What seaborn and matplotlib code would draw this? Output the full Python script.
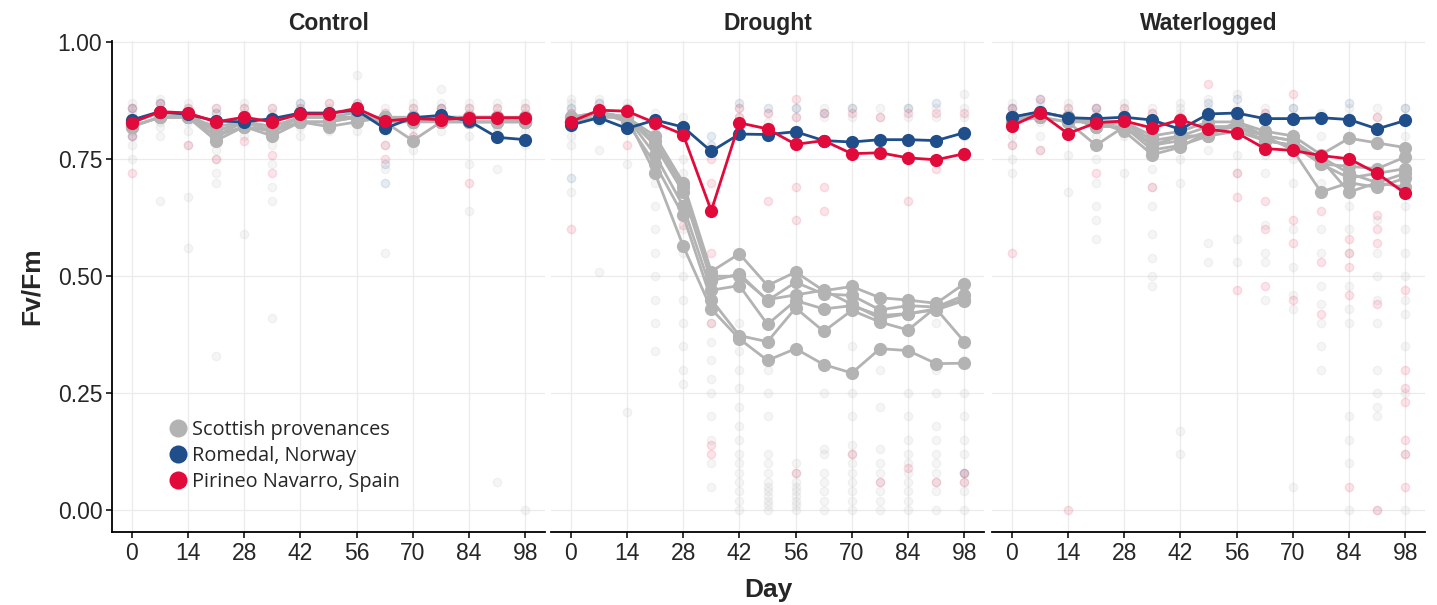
import numpy as np
import pandas as pd
import matplotlib.pyplot as plt
import seaborn as sns
from matplotlib.lines import Line2D

# ---------------- data ----------------
days = [0, 7, 14, 21, 28, 35, 42, 49, 56, 63, 70, 77, 84, 91, 98]
treatments = ['Control', 'Drought', 'Waterlogged']
groups = ['Scottish provenances', 'Romedal, Norway', 'Pirineo Navarro, Spain']

# provenance means (Romedal / Pirineo)
ctrl_norway = [0.834, 0.852, 0.846, 0.832, 0.830, 0.837, 0.849, 0.849, 0.855, 0.816, 0.839, 0.844, 0.832, 0.797, 0.792]
ctrl_spain = [0.828, 0.852, 0.849, 0.830, 0.840, 0.830, 0.847, 0.847, 0.859, 0.832, 0.837, 0.835, 0.839, 0.839, 0.839]
drou_norway = [0.823, 0.839, 0.816, 0.834, 0.819, 0.767, 0.804, 0.803, 0.809, 0.790, 0.787, 0.792, 0.792, 0.790, 0.807]
drou_spain = [0.830, 0.855, 0.853, 0.828, 0.803, 0.640, 0.828, 0.815, 0.782, 0.790, 0.762, 0.764, 0.753, 0.749, 0.762]
wlog_norway = [0.840, 0.852, 0.839, 0.837, 0.840, 0.834, 0.814, 0.847, 0.849, 0.837, 0.837, 0.839, 0.835, 0.815, 0.833]
wlog_spain = [0.821, 0.849, 0.805, 0.828, 0.832, 0.817, 0.835, 0.814, 0.807, 0.773, 0.769, 0.758, 0.751, 0.720, 0.677]

# Scottish provenances (six)
ctrl_scot = [
    [0.83, 0.85, 0.84, 0.80, 0.83, 0.81, 0.84, 0.84, 0.84, 0.83, 0.79, 0.83, 0.84, 0.84, 0.83],
    [0.82, 0.84, 0.84, 0.79, 0.82, 0.80, 0.83, 0.82, 0.83, 0.84, 0.83, 0.84, 0.83, 0.83, 0.84],
    [0.83, 0.85, 0.85, 0.81, 0.83, 0.82, 0.84, 0.84, 0.85, 0.83, 0.84, 0.84, 0.84, 0.84, 0.83],
    [0.82, 0.84, 0.84, 0.80, 0.82, 0.81, 0.83, 0.83, 0.84, 0.84, 0.84, 0.83, 0.83, 0.83, 0.83],
    [0.83, 0.85, 0.84, 0.82, 0.83, 0.82, 0.84, 0.84, 0.84, 0.84, 0.83, 0.84, 0.84, 0.84, 0.84],
    [0.82, 0.84, 0.84, 0.81, 0.83, 0.81, 0.83, 0.83, 0.84, 0.83, 0.83, 0.83, 0.83, 0.83, 0.83],
]
drou_scot = [
    [0.84, 0.85, 0.84, 0.80, 0.70, 0.51, 0.548, 0.48, 0.509, 0.469, 0.478, 0.454, 0.449, 0.442, 0.484],
    [0.83, 0.85, 0.84, 0.78, 0.68, 0.49, 0.505, 0.448, 0.487, 0.462, 0.459, 0.428, 0.437, 0.434, 0.459],
    [0.83, 0.84, 0.84, 0.76, 0.65, 0.47, 0.48, 0.397, 0.448, 0.430, 0.437, 0.416, 0.420, 0.428, 0.448],
    [0.84, 0.85, 0.83, 0.74, 0.63, 0.45, 0.373, 0.36, 0.432, 0.382, 0.427, 0.402, 0.385, 0.434, 0.45],
    [0.83, 0.84, 0.84, 0.72, 0.565, 0.43, 0.366, 0.32, 0.345, 0.311, 0.293, 0.345, 0.341, 0.313, 0.314],
    [0.83, 0.85, 0.84, 0.79, 0.69, 0.50, 0.50, 0.45, 0.46, 0.47, 0.44, 0.410, 0.42, 0.43, 0.360],
]
wlog_scot = [
    [0.84, 0.85, 0.84, 0.83, 0.83, 0.80, 0.81, 0.83, 0.83, 0.81, 0.80, 0.76, 0.795, 0.785, 0.775],
    [0.83, 0.85, 0.84, 0.82, 0.83, 0.79, 0.80, 0.82, 0.82, 0.80, 0.79, 0.74, 0.735, 0.73, 0.755],
    [0.83, 0.84, 0.83, 0.78, 0.82, 0.77, 0.78, 0.80, 0.81, 0.79, 0.78, 0.755, 0.72, 0.70, 0.72],
    [0.84, 0.85, 0.84, 0.83, 0.81, 0.76, 0.776, 0.81, 0.82, 0.80, 0.77, 0.68, 0.70, 0.69, 0.71],
    [0.83, 0.85, 0.84, 0.82, 0.82, 0.78, 0.80, 0.80, 0.83, 0.80, 0.79, 0.75, 0.68, 0.70, 0.69],
    [0.84, 0.84, 0.83, 0.83, 0.83, 0.78, 0.79, 0.81, 0.82, 0.79, 0.78, 0.74, 0.71, 0.72, 0.73],
]

# individual plant measurements (faint points), day -> values
ctrl_obs_grey = {
    0: [0.87, 0.86, 0.85, 0.84, 0.83, 0.82, 0.81, 0.80, 0.78, 0.75], 7: [0.88, 0.87, 0.86, 0.85, 0.84, 0.83, 0.82, 0.80, 0.66],
    14: [0.87, 0.86, 0.85, 0.84, 0.83, 0.81, 0.78, 0.67, 0.56], 21: [0.86, 0.85, 0.83, 0.81, 0.79, 0.77, 0.75, 0.72, 0.70, 0.33],
    28: [0.87, 0.86, 0.85, 0.84, 0.83, 0.82, 0.80, 0.59], 35: [0.86, 0.85, 0.84, 0.82, 0.80, 0.78, 0.74, 0.69, 0.66, 0.41],
    42: [0.87, 0.86, 0.85, 0.84, 0.83, 0.82, 0.80], 49: [0.87, 0.86, 0.85, 0.84, 0.83, 0.82, 0.81],
    56: [0.93, 0.87, 0.86, 0.85, 0.84, 0.83, 0.81], 63: [0.86, 0.85, 0.84, 0.83, 0.81, 0.78, 0.73, 0.55],
    70: [0.87, 0.86, 0.85, 0.84, 0.82, 0.80, 0.79, 0.77], 77: [0.90, 0.87, 0.86, 0.85, 0.84, 0.83, 0.81],
    84: [0.87, 0.86, 0.85, 0.84, 0.83, 0.80, 0.74, 0.64], 91: [0.87, 0.86, 0.85, 0.84, 0.83, 0.80, 0.73, 0.06],
    98: [0.87, 0.86, 0.85, 0.84, 0.83, 0.81, 0.78, 0.0],
}
ctrl_obs_red = {0: [0.86, 0.80, 0.72], 7: [0.87], 14: [0.78, 0.86], 21: [0.86, 0.75, 0.80], 28: [0.79, 0.86], 35: [0.86, 0.76, 0.72],
                42: [0.86], 49: [0.87], 56: [0.86], 63: [0.85, 0.75, 0.78], 70: [0.80, 0.86], 77: [0.86], 84: [0.86, 0.70],
                91: [0.86], 98: [0.86]}
ctrl_obs_blue = {0: [0.86, 0.80], 7: [0.87], 21: [0.85], 42: [0.87], 56: [0.87], 63: [0.70, 0.74], 77: [0.86], 91: [0.82]}

drou_obs_grey = {
    0: [0.88, 0.87, 0.86, 0.85, 0.84, 0.83, 0.82, 0.80, 0.78, 0.68], 7: [0.88, 0.87, 0.86, 0.85, 0.84, 0.83, 0.77, 0.51],
    14: [0.87, 0.86, 0.85, 0.84, 0.82, 0.74, 0.21], 21: [0.85, 0.80, 0.75, 0.70, 0.65, 0.60, 0.55, 0.50, 0.45, 0.40, 0.34],
    28: [0.84, 0.80, 0.75, 0.72, 0.66, 0.60, 0.55, 0.50, 0.45, 0.40, 0.35, 0.30, 0.27],
    35: [0.48, 0.44, 0.40, 0.36, 0.32, 0.28, 0.25, 0.20, 0.15, 0.10, 0.05],
    42: [0.86, 0.84, 0.40, 0.34, 0.30, 0.26, 0.22, 0.18, 0.15, 0.12, 0.10, 0.08, 0.06, 0.04, 0.02, 0.0],
    49: [0.85, 0.83, 0.30, 0.25, 0.20, 0.12, 0.10, 0.08, 0.06, 0.05, 0.04, 0.03, 0.02, 0.01, 0.0],
    56: [0.86, 0.84, 0.10, 0.08, 0.06, 0.05, 0.04, 0.03, 0.02, 0.01, 0.0],
    63: [0.86, 0.84, 0.25, 0.13, 0.12, 0.08, 0.06, 0.04, 0.02, 0.0],
    70: [0.86, 0.84, 0.35, 0.25, 0.20, 0.14, 0.12, 0.10, 0.08, 0.06, 0.04, 0.02, 0.0],
    77: [0.86, 0.84, 0.30, 0.22, 0.13, 0.10, 0.08, 0.06, 0.04, 0.02, 0.0],
    84: [0.86, 0.84, 0.25, 0.20, 0.15, 0.12, 0.10, 0.08, 0.06, 0.04, 0.02, 0.0],
    91: [0.86, 0.84, 0.40, 0.30, 0.25, 0.18, 0.15, 0.12, 0.10, 0.08, 0.06, 0.04, 0.0],
    98: [0.89, 0.86, 0.84, 0.32, 0.25, 0.20, 0.15, 0.12, 0.08, 0.06, 0.04, 0.0],
}
drou_obs_red = {0: [0.60, 0.85], 7: [0.86], 14: [0.78, 0.86], 21: [0.83], 28: [0.80, 0.61],
                35: [0.75, 0.70, 0.65, 0.55, 0.43, 0.40, 0.14, 0.12], 42: [0.86, 0.84], 49: [0.85, 0.66],
                56: [0.88, 0.84, 0.69, 0.62, 0.08], 63: [0.85, 0.69, 0.64], 70: [0.85, 0.12], 77: [0.84, 0.40, 0.06],
                84: [0.85, 0.66, 0.09], 91: [0.85, 0.73, 0.06], 98: [0.85, 0.08, 0.06]}
drou_obs_blue = {0: [0.71, 0.86], 7: [0.87], 35: [0.80, 0.78], 42: [0.87, 0.83], 49: [0.86], 56: [0.86], 63: [0.85],
                 70: [0.86], 84: [0.86], 91: [0.87], 98: [0.08, 0.80]}

wlog_obs_grey = {
    0: [0.87, 0.86, 0.85, 0.84, 0.83, 0.82, 0.80, 0.78, 0.75, 0.72], 7: [0.87, 0.86, 0.85, 0.84, 0.83, 0.80, 0.77],
    14: [0.87, 0.86, 0.85, 0.84, 0.83, 0.76, 0.68], 21: [0.86, 0.85, 0.84, 0.83, 0.80, 0.75, 0.70, 0.65, 0.62, 0.58],
    28: [0.87, 0.86, 0.85, 0.84, 0.83, 0.80, 0.72], 35: [0.86, 0.85, 0.83, 0.80, 0.77, 0.73, 0.69, 0.65, 0.59, 0.54, 0.50, 0.48],
    42: [0.87, 0.86, 0.85, 0.84, 0.80, 0.75, 0.70, 0.17, 0.12], 49: [0.88, 0.86, 0.85, 0.84, 0.80, 0.77, 0.57, 0.53],
    56: [0.89, 0.86, 0.85, 0.84, 0.80, 0.76, 0.72, 0.58, 0.53], 63: [0.86, 0.85, 0.84, 0.80, 0.76, 0.72, 0.61, 0.55, 0.53, 0.45],
    70: [0.86, 0.84, 0.80, 0.75, 0.70, 0.60, 0.52, 0.46, 0.43, 0.05],
    77: [0.85, 0.84, 0.80, 0.70, 0.60, 0.55, 0.48, 0.44, 0.40, 0.35, 0.30],
    84: [0.86, 0.84, 0.80, 0.65, 0.60, 0.55, 0.48, 0.43, 0.40, 0.20, 0.15, 0.10, 0.0],
    91: [0.86, 0.84, 0.80, 0.62, 0.55, 0.50, 0.45, 0.40, 0.30, 0.25, 0.22, 0.20, 0.0],
    98: [0.86, 0.84, 0.80, 0.65, 0.60, 0.55, 0.50, 0.45, 0.42, 0.35, 0.25, 0.12, 0.0],
}
wlog_obs_red = {0: [0.55, 0.86, 0.78], 7: [0.77, 0.88], 14: [0.0, 0.86], 21: [0.86, 0.72], 28: [0.86], 35: [0.69, 0.85],
                42: [0.84], 49: [0.91], 56: [0.85, 0.72, 0.67, 0.47], 63: [0.85, 0.60, 0.48, 0.66],
                70: [0.57, 0.62, 0.45, 0.89], 77: [0.84, 0.53, 0.64, 0.42], 84: [0.58, 0.55, 0.52, 0.46, 0.05, 0.80],
                91: [0.84, 0.63, 0.57, 0.44, 0.60, 0.0], 98: [0.47, 0.30, 0.26, 0.23, 0.15, 0.12, 0.05]}
wlog_obs_blue = {0: [0.86], 7: [0.88], 21: [0.86], 49: [0.87], 56: [0.88], 70: [0.86], 84: [0.87], 98: [0.86]}

# ---------------- build tables ----------------
colors = {'Scottish provenances': '#B3B3B3', 'Romedal, Norway': '#1F4E8A', 'Pirineo Navarro, Spain': '#E20A3B'}

mean_sets = {
    'Control': (ctrl_scot, ctrl_norway, ctrl_spain),
    'Drought': (drou_scot, drou_norway, drou_spain),
    'Waterlogged': (wlog_scot, wlog_norway, wlog_spain),
}
obs_sets = {
    'Control': (ctrl_obs_grey, ctrl_obs_blue, ctrl_obs_red),
    'Drought': (drou_obs_grey, drou_obs_blue, drou_obs_red),
    'Waterlogged': (wlog_obs_grey, wlog_obs_blue, wlog_obs_red),
}

rows = []
for trt, (scot, nor, spa) in mean_sets.items():
    for i, series in enumerate(scot):
        for d, v in zip(days, series):
            rows.append((trt, groups[0], f'Scot{i}', d, v))
    for d, v in zip(days, nor):
        rows.append((trt, groups[1], 'Romedal', d, v))
    for d, v in zip(days, spa):
        rows.append((trt, groups[2], 'Pirineo', d, v))
means = pd.DataFrame(rows, columns=['Treatment', 'Group', 'Prov', 'Day', 'FvFm'])

rows = []
for trt, dicts in obs_sets.items():
    for g, dct in zip(groups, dicts):
        for d, vals in dct.items():
            for v in vals:
                rows.append((trt, g, d, v))
obs = pd.DataFrame(rows, columns=['Treatment', 'Group', 'Day', 'FvFm'])

# ---------------- plot ----------------
sns.set_theme(style='white')
plt.rcParams['font.family'] = ['Liberation Sans', 'DejaVu Sans']

fig = plt.figure(figsize=(14.37, 6.05), dpi=100)
W, H = 1437, 605
panel_x = [112, 551, 992]
panel_w = 433
bottom, top = 532, 41

for k, trt in enumerate(treatments):
    ax = fig.add_axes([panel_x[k] / W, 1 - bottom / H, panel_w / W, (bottom - top) / H])

    o = obs[obs.Treatment == trt]
    for g in groups:
        og = o[o.Group == g]
        ax.scatter(og.Day, og.FvFm, s=36, facecolor=colors[g], edgecolor=colors[g],
                   alpha=0.13 if g == groups[0] else 0.11, linewidth=1.0, zorder=2)

    m = means[means.Treatment == trt]
    for g in groups:
        sns.lineplot(data=m[m.Group == g], x='Day', y='FvFm', units='Prov', estimator=None,
                     color=colors[g], lw=2.0, marker='o', markersize=9.5, markeredgewidth=0,
                     ax=ax, zorder=3, legend=False)

    ax.set_xlim(-4.9, 102.9)
    ax.set_ylim(-0.047, 1.003)
    ax.set_xticks([0, 14, 28, 42, 56, 70, 84, 98])
    ax.set_yticks([0, 0.25, 0.5, 0.75, 1.0])
    ax.grid(True, color='#EBEBEB', lw=0.9)
    ax.set_axisbelow(True)
    for s in ['top', 'right']:
        ax.spines[s].set_visible(False)
    ax.spines['bottom'].set_color('black')
    ax.spines['bottom'].set_linewidth(1.3)
    ax.tick_params(axis='x', bottom=True, length=4, width=1.1, color='black', labelsize=16.5, pad=3)
    if k == 0:
        ax.spines['left'].set_color('black')
        ax.spines['left'].set_linewidth(1.3)
        ax.tick_params(axis='y', left=True, length=4, width=1.1, color='black', labelsize=16.5, pad=3)
        ax.set_yticklabels(['0.00', '0.25', '0.50', '0.75', '1.00'])
        ax.set_ylabel('Fv/Fm', fontsize=19, fontweight='bold', labelpad=10)
    else:
        ax.spines['left'].set_visible(False)
        ax.tick_params(axis='y', left=False, labelleft=False)
        ax.set_ylabel('')
    ax.set_xlabel('')
    ax.set_title(trt, fontsize=16.5, fontweight='bold', pad=8)

    if k == 0:
        handles = [Line2D([], [], ls='none', marker='o', markersize=13, markeredgewidth=0, color=colors[g]) for g in groups]
        ax.legend(handles, groups, loc='lower left', bbox_to_anchor=(0.105, 0.062), frameon=False,
                  prop={'family': 'Open Sans', 'size': 14.3}, handletextpad=0.15, labelspacing=0.3,
                  borderpad=0, handlelength=1.1)

fig.text(768 / W, 1 - 590 / H, 'Day', ha='center', va='center', fontsize=19, fontweight='bold')

fig.savefig('out.png', dpi=100)
